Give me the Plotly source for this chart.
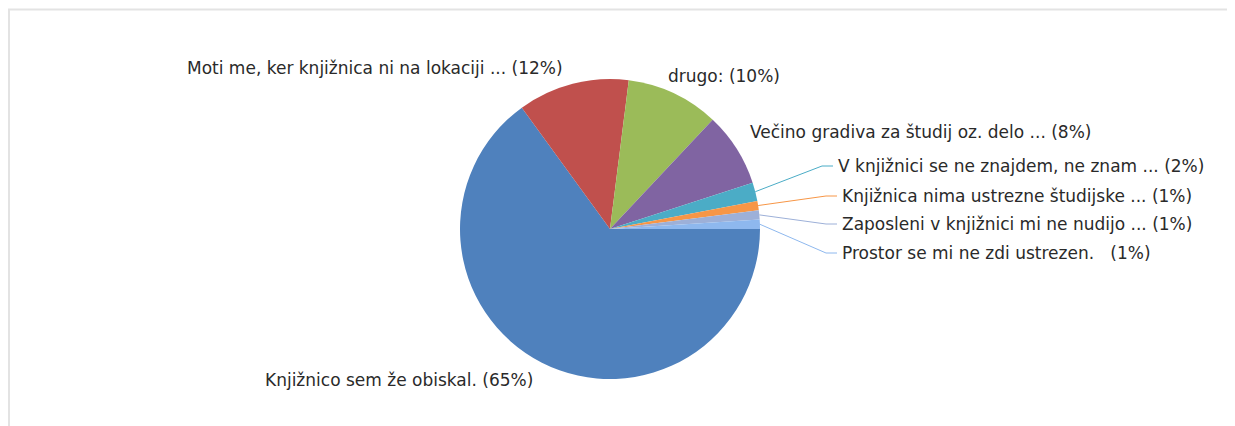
import plotly.graph_objects as go
import math

labels = [
    "Knjižnico sem že obiskal.",
    "Moti me, ker knjižnica ni na lokaciji ...",
    "drugo:",
    "Večino gradiva za študij oz. delo ...",
    "V knjižnici se ne znajdem, ne znam ...",
    "Knjižnica nima ustrezne študijske ...",
    "Zaposleni v knjižnici mi ne nudijo ...",
    "Prostor se mi ne zdi ustrezen.\u00a0\u00a0",
]
values = [65, 12, 10, 8, 2, 1, 1, 1]
colors = ["#4F81BD", "#C0504D", "#9BBB59", "#8064A2", "#4BACC6", "#F79646", "#9DB0D8", "#8EB8EE"]

# page body has an 8px margin; work in page pixels and shift
OFF = 8
W, H = 1235 - OFF, 426 - OFF
CX, CY, R = 610, 229, 150

# label placement (page pixels): (x, y, anchor, leader line?)
label_pos = [
    (263, 380, "left", False),
    (565, 68, "right", False),
    (666, 76, "left", False),
    (748, 132, "left", False),
    (836, 166, "left", True),
    (840, 196, "left", True),
    (840, 224, "left", True),
    (840, 253, "left", True),
]

def px(x):
    return (x - OFF) / W

def py(y):
    return 1 - (y - OFF) / H

fig = go.Figure(go.Pie(
    labels=labels,
    values=values,
    marker=dict(colors=colors, line=dict(width=0)),
    sort=False,
    direction="clockwise",
    rotation=90,
    textinfo="none",
    hoverinfo="label+percent",
    showlegend=False,
    domain=dict(x=[px(CX - R), px(CX + R)], y=[py(CY + R), py(CY - R)]),
))

total = sum(values)
annotations = []
shapes = []
cum = 0
for lab, v, col, (lx, ly, anc, lead) in zip(labels, values, colors, label_pos):
    pct = round(100 * v / total)
    annotations.append(dict(
        x=px(lx), y=py(ly), xref="paper", yref="paper",
        text=f"{lab} ({pct}%)", showarrow=False,
        xanchor=anc, yanchor="middle",
        font=dict(family="DejaVu Sans", size=17, color="#2a2a2a"),
    ))
    mid = (cum + v / 2) / total
    cum += v
    if lead:
        ang = math.radians(-360 * mid)
        ex = CX + R * math.cos(ang)
        ey = CY - R * math.sin(ang)
        path = (f"M {px(ex)},{py(ey)} L {px(lx - 14)},{py(ly)} L {px(lx - 3)},{py(ly)}")
        shapes.append(dict(type="path", path=path, xref="paper", yref="paper",
                           line=dict(color=col, width=1)))

# frame
shapes.append(dict(type="line", xref="paper", yref="paper",
                   x0=px(8), x1=1.0, y0=py(9.5), y1=py(9.5),
                   line=dict(color="#E3E3E3", width=2)))
shapes.append(dict(type="line", xref="paper", yref="paper",
                   x0=px(9), x1=px(9), y0=py(9), y1=0.0,
                   line=dict(color="#E3E3E3", width=2)))

fig.update_layout(
    width=W, height=H,
    margin=dict(l=0, r=0, t=0, b=0),
    paper_bgcolor="white",
    plot_bgcolor="white",
    annotations=annotations,
    shapes=shapes,
)

fig.write_html("out.html")
